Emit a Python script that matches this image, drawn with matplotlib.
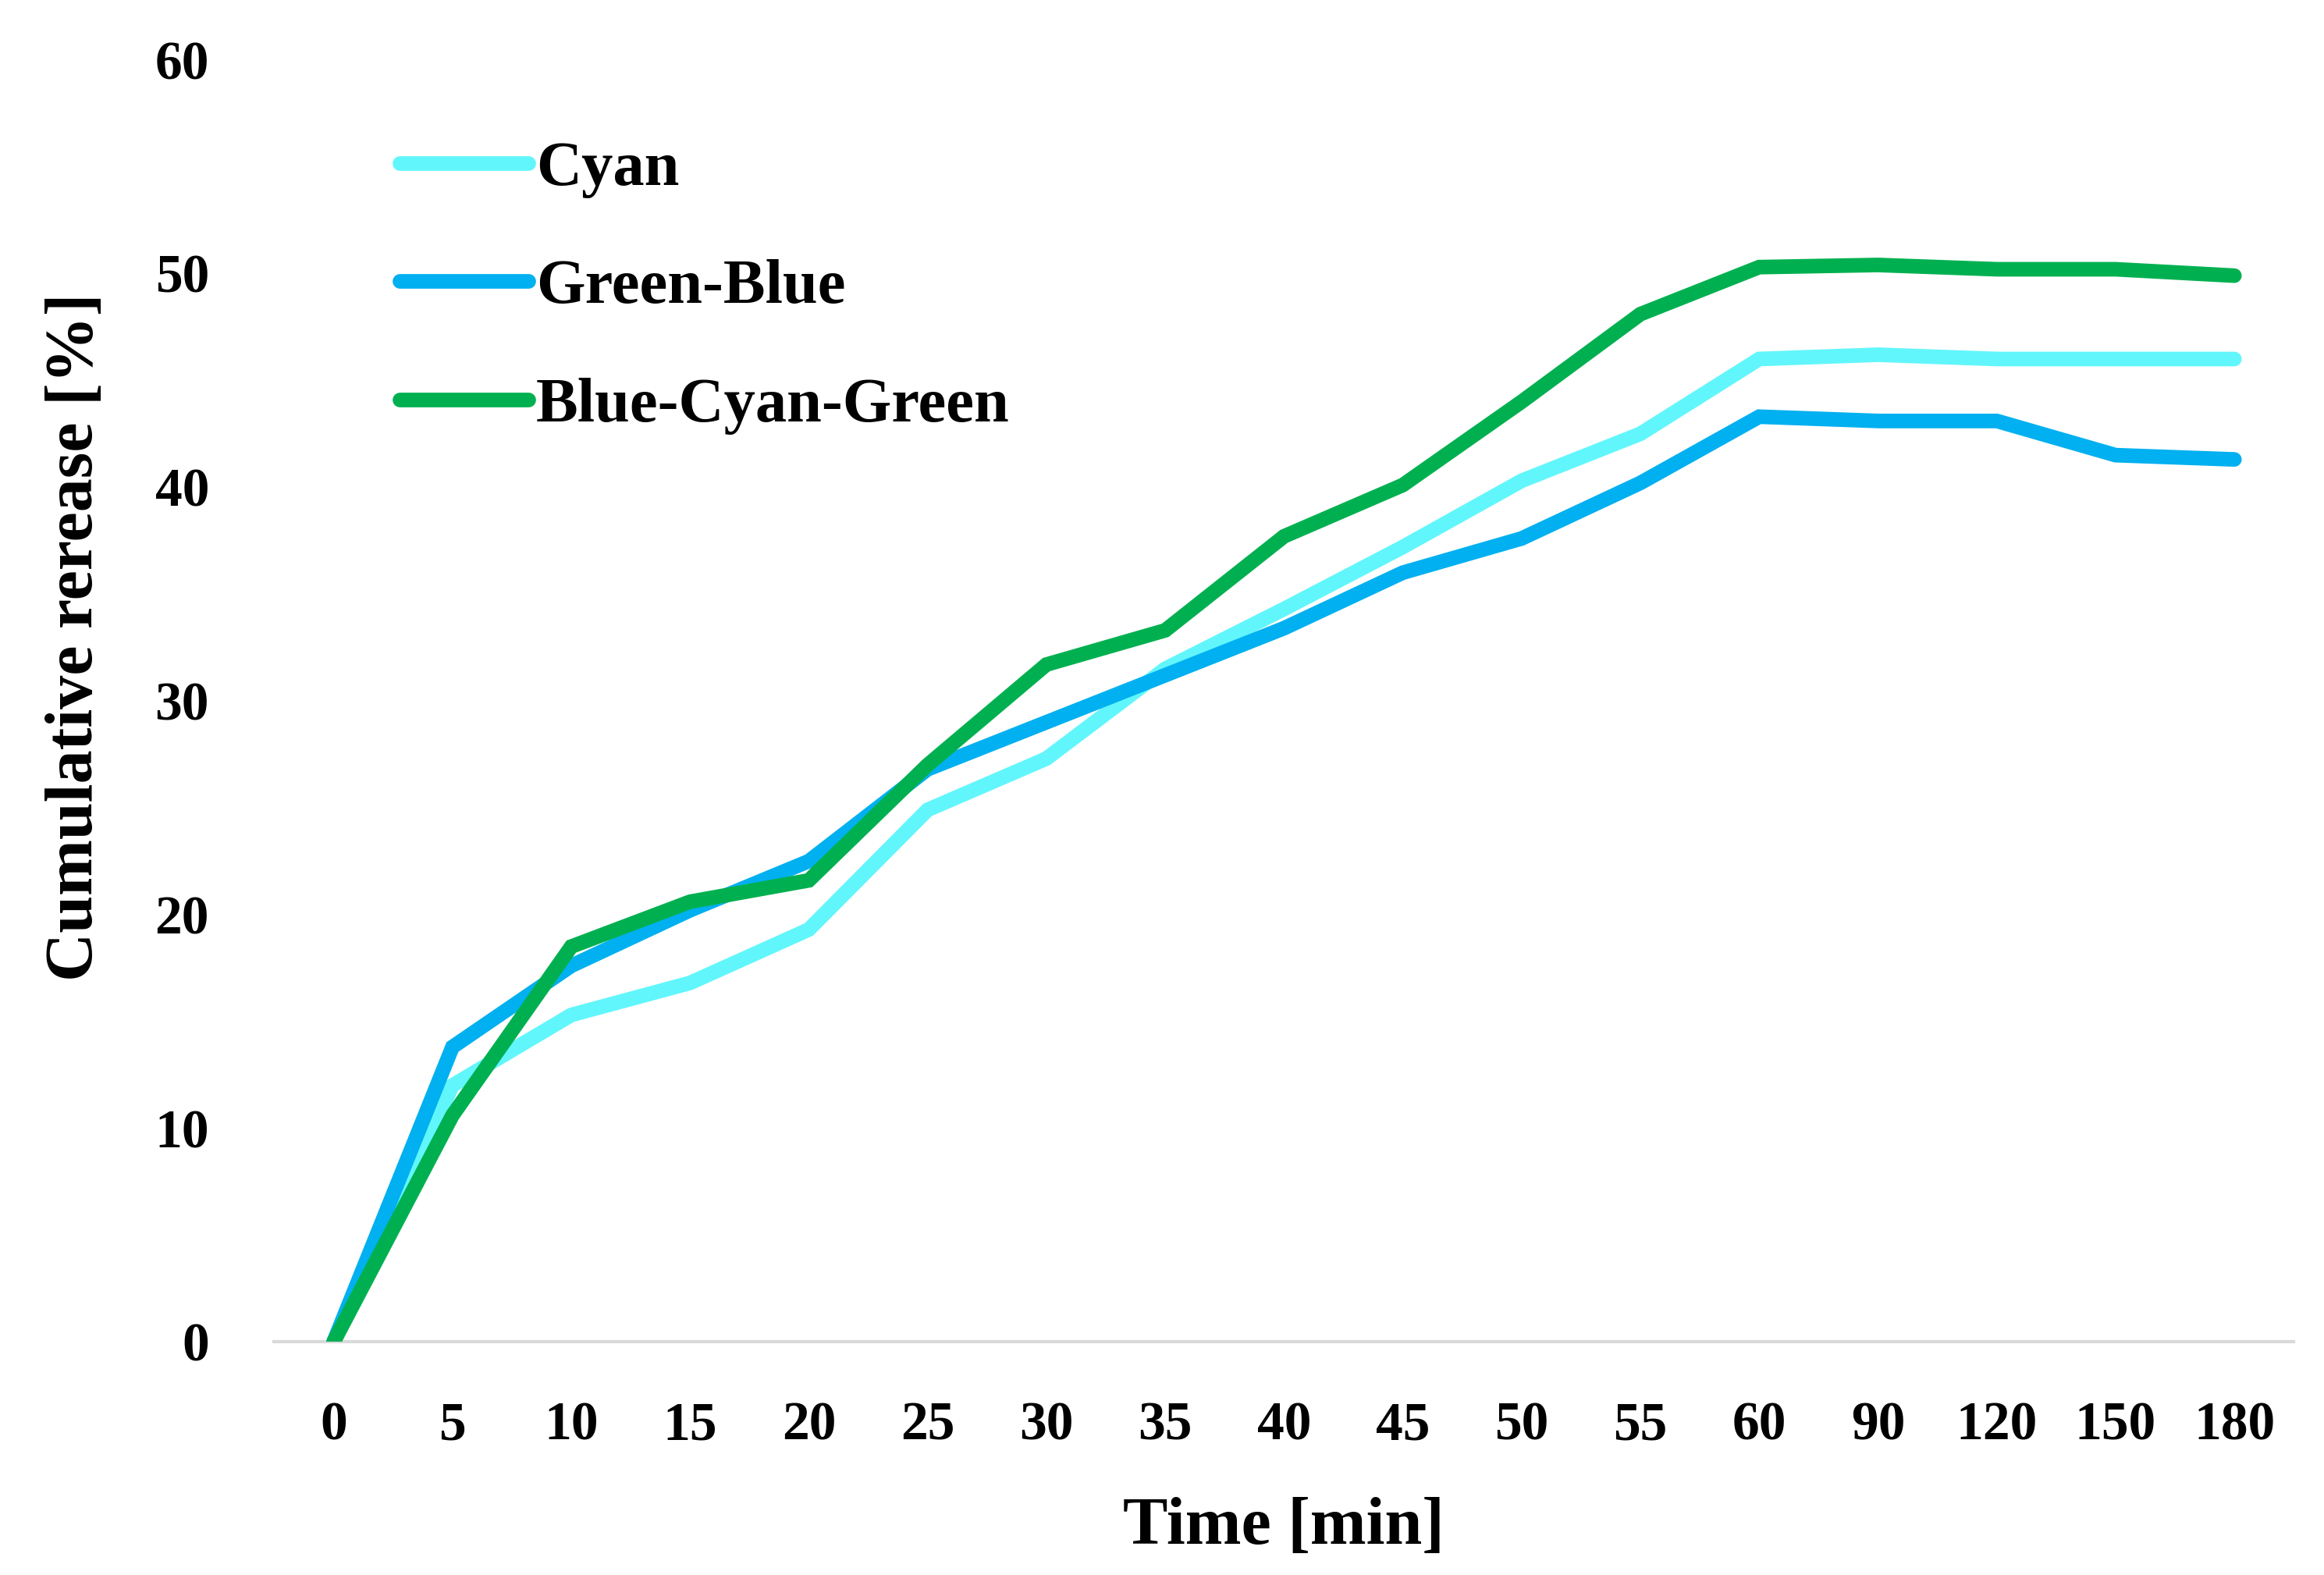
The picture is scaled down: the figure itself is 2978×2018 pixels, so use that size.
import matplotlib
matplotlib.use("Agg")
import matplotlib.pyplot as plt

# sampling times (categorical axis, as in the spreadsheet chart)
times = ["0", "5", "10", "15", "20", "25", "30", "35", "40", "45", "50", "55",
         "60", "90", "120", "150", "180"]

cyan = [0, 12.0, 15.3, 16.8, 19.3, 24.9, 27.3, 31.5, 34.3, 37.2, 40.3, 42.5,
        46.0, 46.2, 46.0, 46.0, 46.0]
green_blue = [0, 13.8, 17.6, 20.2, 22.5, 26.8, 29.0, 31.2, 33.4, 36.0, 37.6, 40.2,
              43.3, 43.1, 43.1, 41.5, 41.3]
blue_cyan_green = [0, 10.6, 18.5, 20.6, 21.6, 27.0, 31.7, 33.3, 37.7, 40.1, 44.0, 48.1,
                   50.3, 50.4, 50.2, 50.2, 49.9]

labels = ["Cyan", "Green-Blue", "Blue-Cyan-Green"]
colors = ["#61F6FC", "#00B0F0", "#00B050"]

plt.rcParams["font.family"] = ["Liberation Serif"]
plt.rcParams["font.weight"] = "bold"

fig = plt.figure(figsize=(29.78, 20.18), dpi=100)
ax = fig.add_axes([0.118, 0.148, 0.869, 0.814])

x = list(range(len(times)))
for vals, lab, col in zip([cyan, green_blue, blue_cyan_green], labels, colors):
    ax.plot(x, vals, color=col, lw=13.5, label=lab, solid_capstyle="round",
            solid_joinstyle="miter")

ax.set_xlim(-0.5, len(times) - 0.5)
ax.set_ylim(0, 60)
ax.set_xticks(x)
ax.set_xticklabels(times)
ax.set_yticks(range(0, 61, 10))

for s in ["top", "right", "left"]:
    ax.spines[s].set_visible(False)
ax.spines["bottom"].set_color("#D9D9D9")
ax.spines["bottom"].set_linewidth(3)
ax.spines["bottom"].set_zorder(0)

ax.tick_params(axis="both", length=0, labelsize=50)
ax.tick_params(axis="x", pad=55)
ax.tick_params(axis="y", pad=60)

ax.set_xlabel("Time [min]", fontsize=62, fontweight="bold", labelpad=42)
ax.set_ylabel("Cumulative rerease [%]", fontsize=62, fontweight="bold")
ax.yaxis.set_label_coords(-0.083, 0.55)

leg = ax.legend(loc="upper left", bbox_to_anchor=(0.034, 0.981), frameon=False,
                fontsize=58, handlelength=2.05, handletextpad=0.12, labelspacing=0.97)
for h in leg.get_lines():
    h.set_linewidth(13.5)

fig.savefig("out.png", dpi=100, facecolor="white")
